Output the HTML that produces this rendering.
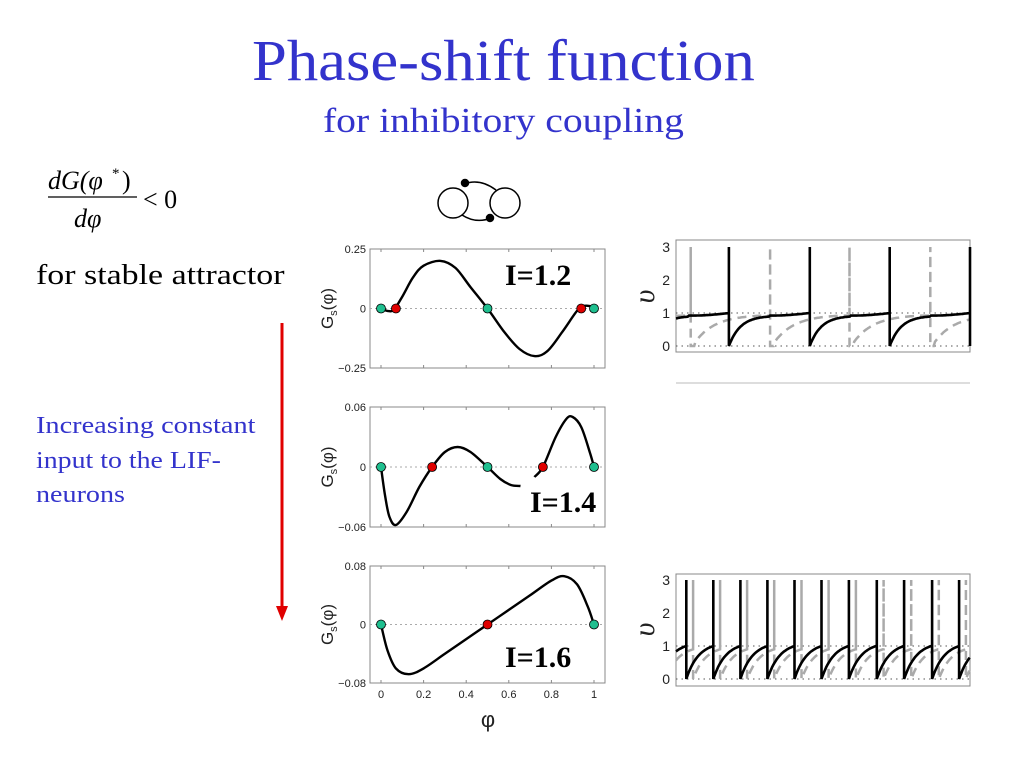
<!DOCTYPE html>
<html><head><meta charset="utf-8"><title>Phase-shift function</title>
<style>html,body{margin:0;padding:0;background:#fff;}svg{display:block;}</style></head>
<body>
<svg id="slide" width="1024" height="768" viewBox="0 0 1024 768" xmlns="http://www.w3.org/2000/svg">
  <text id="t-title" x="252" y="80" font-family="Liberation Serif, serif" font-size="58" fill="#3333cc">Phase-shift function</text>
  <text id="t-sub" x="323" y="132" font-family="Liberation Serif, serif" font-size="35" fill="#3333cc">for inhibitory coupling</text>

  <g font-family="Liberation Serif, serif" font-size="26" fill="#000">
    <text x="48" y="189" font-style="italic">dG(φ</text>
    <text x="112" y="178" font-size="15">*</text>
    <text x="122" y="189">)</text>
    <line x1="48" y1="197" x2="137" y2="197" stroke="#000" stroke-width="1.3"/>
    <text x="74" y="227" font-style="italic">dφ</text>
    <text x="143" y="208">&lt; 0</text>
  </g>
  <text id="t-stable" x="36" y="284" font-family="Liberation Serif, serif" font-size="29" fill="#000">for stable attractor</text>

  <g font-family="Liberation Serif, serif" font-size="24" fill="#3333cc">
    <text id="t-b1" x="36" y="433">Increasing constant</text>
    <text id="t-b2" x="36" y="468">input to the LIF-</text>
    <text id="t-b3" x="36" y="502">neurons</text>
  </g>
  <g>
    <line x1="282" y1="323" x2="282" y2="608" stroke="#e00000" stroke-width="3"/>
    <polygon points="276,606 288,606 282,621" fill="#e00000"/>
  </g>

  <g fill="none" stroke="#000" stroke-width="1.5">
    <circle cx="453" cy="203" r="15"/>
    <circle cx="505" cy="203" r="15"/>
    <path d="M464,184 Q480,178 496,190"/>
    <path d="M462,215 Q476,224 491,218"/>
    <circle cx="465" cy="183" r="3.5" fill="#000"/>
    <circle cx="490" cy="218" r="3.5" fill="#000"/>
  </g>

  <g id="plots"></g>
  <g id="traces"></g>
  <line x1="676" y1="383" x2="970" y2="383" stroke="#bbb" stroke-width="1"/>
</svg>
<script>
// ---- phase-shift function data ----
const phi1 = [0,0.03,0.06,0.1,0.15,0.2,0.28,0.35,0.42,0.5,0.58,0.65,0.72,0.78,0.85,0.92,0.95,0.98,1.0];
const g1   = [0,-0.01,-0.005,0.05,0.13,0.18,0.2,0.17,0.09,0,-0.1,-0.17,-0.2,-0.18,-0.1,-0.01,0.01,0.01,0];
const stable1 = [0,0.5,1.0];
const unstable1 = [0.07,0.94];

const phi2a = [0,0.02,0.04,0.07,0.12,0.18,0.24,0.3,0.36,0.42,0.5,0.56,0.61,0.655];
const g2a   = [0,-0.03,-0.05,-0.058,-0.045,-0.02,0,0.015,0.02,0.015,0,-0.012,-0.018,-0.019];
const phi2b = [0.72,0.76,0.82,0.87,0.9,0.94,0.98,1.0];
const g2b   = [-0.01,0,0.03,0.048,0.05,0.04,0.015,0];
const stable2 = [0,0.5,1.0];
const unstable2 = [0.24,0.76];

const phi3 = [0,0.03,0.07,0.13,0.2,0.3,0.4,0.5,0.6,0.7,0.8,0.86,0.92,0.97,1.0];
const g3   = [0,-0.035,-0.06,-0.068,-0.06,-0.04,-0.02,0,0.02,0.04,0.06,0.066,0.055,0.025,0];
const stable3 = [0,1.0];
const unstable3 = [0.5];

const xTicks = [0,0.2,0.4,0.6,0.8,1];
const xTickLabels = ["0","0.2","0.4","0.6","0.8","1"];

// ---- voltage trace data (spike times as fraction of window) ----
const blackSpikesTop = [0.18,0.455,0.727,1.0];
const graySpikesTop  = [0.05,0.32,0.59,0.865];
const blackSpikesBot = [0.035,0.127,0.219,0.311,0.403,0.495,0.588,0.683,0.776,0.871,0.963];
const graySpikesBot  = [0.058,0.15,0.242,0.334,0.427,0.519,0.612,0.706,0.8,0.894,0.986];
const vTicks = [0,1,2,3];

const NS = "http://www.w3.org/2000/svg";
function mk(tag, attrs, parent){ const e=document.createElementNS(NS,tag); for(const k in attrs) e.setAttribute(k,attrs[k]); parent.appendChild(e); return e; }
function fitX(id, w){
  const el=document.getElementById(id); const bb=el.getBBox(); const x=parseFloat(el.getAttribute('x'));
  const s=w/bb.width; el.setAttribute('transform',`translate(${x},0) scale(${s},1) translate(${-x},0)`);
}
fitX('t-title',503); fitX('t-sub',361); fitX('t-stable',249);
fitX('t-b1',220); fitX('t-b2',185); fitX('t-b3',89);

function smoothPath(pts){
  let d="M"+pts[0][0].toFixed(1)+","+pts[0][1].toFixed(1);
  for(let i=0;i<pts.length-1;i++){
    const p0=pts[i-1]||pts[i], p1=pts[i], p2=pts[i+1], p3=pts[i+2]||p2;
    const c1=[p1[0]+(p2[0]-p0[0])/6, p1[1]+(p2[1]-p0[1])/6];
    const c2=[p2[0]-(p3[0]-p1[0])/6, p2[1]-(p3[1]-p1[1])/6];
    d+=" C"+c1[0].toFixed(1)+","+c1[1].toFixed(1)+" "+c2[0].toFixed(1)+","+c2[1].toFixed(1)+" "+p2[0].toFixed(1)+","+p2[1].toFixed(1);
  }
  return d;
}

const plotsG = document.getElementById('plots');
function phasePlot(cfg){
  const g = mk('g',{},plotsG);
  
  
  const x0=370, x1=605;
  const xs = v => 381 + v*213;
  const ys = v => cfg.yZero - v/cfg.yMax*(cfg.yZero-cfg.yTop);
  const yBot = ys(-cfg.yMax);
  const frame = mk('rect',{x:x0,y:cfg.yTop,width:x1-x0,height:yBot-cfg.yTop,fill:'none',stroke:'#888','stroke-width':1},g);
  
  
  mk('line',{x1:x0,x2:x1,y1:ys(0),y2:ys(0),stroke:'#aaa','stroke-width':1,'stroke-dasharray':'2,3'},g);
  xTicks.forEach(t=>{
    mk('line',{x1:xs(t),x2:xs(t),y1:cfg.yTop,y2:cfg.yTop+3,stroke:'#888'},g);
    mk('line',{x1:xs(t),x2:xs(t),y1:yBot,y2:yBot-3,stroke:'#888'},g);
  });
  [cfg.yMax,0,-cfg.yMax].forEach((t,i)=>{
    const lb = mk('text',{x:366,y:ys(t)+4,'text-anchor':'end','font-family':'Liberation Sans, sans-serif','font-size':11,fill:'#222'},g);
    lb.textContent = cfg.yLabels[i];
    
    
  });
  const yl = mk('text',{x:0,y:0,transform:`translate(333,${ys(0)}) rotate(-90)`,'text-anchor':'middle','font-family':'Liberation Sans, sans-serif','font-size':17,fill:'#222'},g);
  yl.innerHTML = 'G<tspan font-size="11" dy="4">s</tspan><tspan dy="-4">(φ)</tspan>';
  
  
  cfg.series.forEach(s=>{
    const p = mk('path',{d:smoothPath(s[0].map((v,i)=>[xs(v),ys(s[1][i])])),fill:'none',stroke:'#000','stroke-width':2.4},g);
    
    
  });
  cfg.stable.forEach(v=>{
    const c = mk('circle',{cx:xs(v),cy:ys(0),r:4.5,fill:'#1fbf8f',stroke:'#000','stroke-width':0.8},g);
    
    
  });
  cfg.unstable.forEach(v=>{
    const c = mk('circle',{cx:xs(v),cy:ys(0),r:4.5,fill:'#e00000',stroke:'#000','stroke-width':0.8},g);
    
    
  });
  const lab = mk('text',{x:cfg.lx,y:cfg.ly,'font-family':'Liberation Serif, serif','font-size':30,'font-weight':'bold',fill:'#000'},g);
  lab.textContent = cfg.label;
  
  
  if(cfg.xLabels){
    xTicks.forEach((t,i)=>{
      const tl = mk('text',{x:xs(t),y:yBot+15,'text-anchor':'middle','font-family':'Liberation Sans, sans-serif','font-size':11,fill:'#222'},g);
      tl.textContent = xTickLabels[i];
      
      
    });
    const xt = mk('text',{x:488,y:727,'text-anchor':'middle','font-family':'Liberation Sans, sans-serif','font-size':22,fill:'#222'},g);
    xt.textContent = 'φ';
    
    
  }
}
phasePlot({name:'phase-plot-i12',yTop:249,yZero:308.5,yMax:0.25,yLabels:['0.25','0','\u22120.25'],series:[[phi1,g1]],stable:stable1,unstable:unstable1,label:'I=1.2',lx:505,ly:285});
phasePlot({name:'phase-plot-i14',yTop:407,yZero:467,yMax:0.06,yLabels:['0.06','0','\u22120.06'],series:[[phi2a,g2a],[phi2b,g2b]],stable:stable2,unstable:unstable2,label:'I=1.4',lx:530,ly:512});
phasePlot({name:'phase-plot-i16',yTop:566,yZero:624.5,yMax:0.08,yLabels:['0.08','0','\u22120.08'],series:[[phi3,g3]],stable:stable3,unstable:unstable3,label:'I=1.6',lx:505,ly:667,xLabels:true});

const tracesG = document.getElementById('traces');
function tracePlot(cfg){
  const g = mk('g',{},tracesG);
  
  
  const x0=676, x1=970;
  const xs = v => x0 + v*(x1-x0);
  const ys = v => cfg.y0 - v*(cfg.y0-cfg.y3)/3;
  const fr = mk('rect',{x:x0,y:cfg.top,width:x1-x0,height:cfg.bot-cfg.top,fill:'none',stroke:'#888','stroke-width':1},g);
  
  
  [0,1].forEach(v=>mk('line',{x1:x0,x2:x1,y1:ys(v),y2:ys(v),stroke:'#555','stroke-width':1,'stroke-dasharray':'1.5,4'},g));
  vTicks.forEach(t=>{
    const tl = mk('text',{x:670,y:ys(t)+5,'text-anchor':'end','font-family':'Liberation Sans, sans-serif','font-size':14,fill:'#222'},g);
    tl.textContent = String(t);
    
    
  });
  const vl = mk('text',{x:0,y:0,transform:`translate(654,${ys(1.5)}) rotate(-90)`,'text-anchor':'middle','font-family':'Liberation Serif, serif','font-style':'italic','font-size':30,fill:'#222'},g);
  vl.textContent='υ';
  
  
  function trace(spikes, color, dash, width, shape){
    const pts=[];
    let prev = spikes[0]-cfg.period;
    const all = spikes.concat([spikes[spikes.length-1]+cfg.period]);
    all.forEach(sp=>{
      const a=Math.max(prev,0), b=Math.min(sp,1);
      for(let t=a;t<=b+1e-9;t+=0.004){
        const u=(t-prev)/cfg.period;
        pts.push([xs(t),ys(shape(u))]);
      }
      if(sp<=1){ pts.push([xs(sp),ys(shape(1))]); pts.push([xs(sp),ys(3)]); pts.push([xs(sp),ys(0)]); }
      prev=sp;
    });
    const d = 'M'+pts.map(p=>p[0].toFixed(1)+','+p[1].toFixed(1)).join(' L');
    const p = mk('path',{d:d,fill:'none',stroke:color,'stroke-width':width,'stroke-dasharray':dash,'stroke-linejoin':'miter'},g);
    
    
  }
  trace(cfg.gray,'#aaa','9,6',2.5,cfg.grayShape);
  trace(cfg.black,'#000','',2.6,cfg.blackShape);
}
tracePlot({name:'voltage-trace-i12',top:240,bot:352,y0:346,y3:247,period:0.2727,black:blackSpikesTop,gray:graySpikesTop,
  blackShape:u=>u<0.5?0.92*(1-Math.exp(-u*7)):0.92+0.08*Math.pow((u-0.5)/0.5,2),
  grayShape:u=>u<0.05?0:Math.min(0.92,0.1+0.85*(1-Math.exp(-(u-0.05)*4)))});
tracePlot({name:'voltage-trace-i16',top:574,bot:686,y0:679,y3:580,period:0.0922,black:blackSpikesBot,gray:graySpikesBot,
  blackShape:u=>(1-Math.exp(-u*2.2))/(1-Math.exp(-2.2)),
  grayShape:u=>0.9*(1-Math.exp(-u*2.2))/(1-Math.exp(-2.2))});
</script>
</body></html>
